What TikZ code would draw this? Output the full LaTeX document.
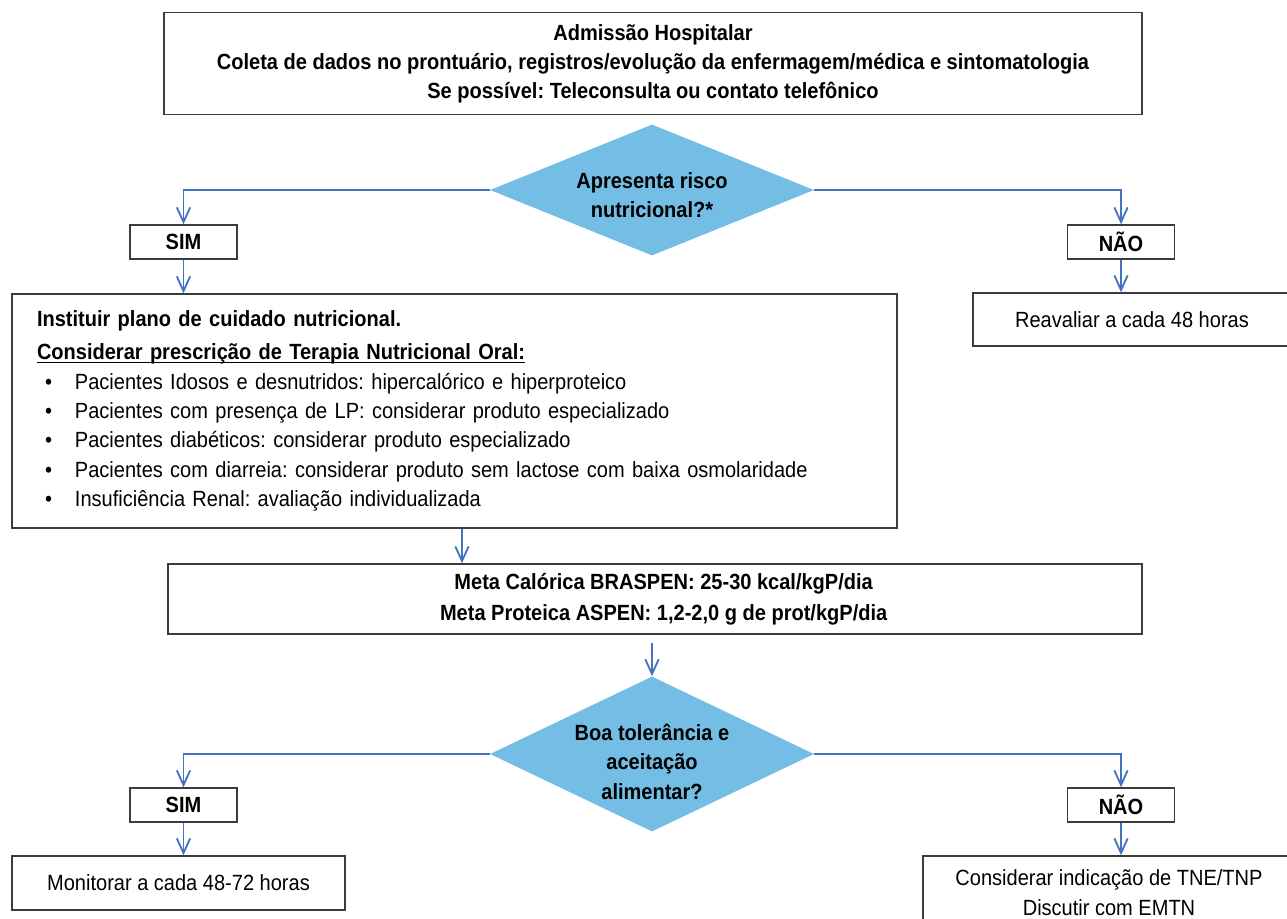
\documentclass[tikz,border=0pt]{standalone}
\usepackage{fontspec}
\setmainfont{Liberation Sans}[FakeStretch=0.91]
\usetikzlibrary{%
  arrows.meta,
  positioning,
  shapes.geometric
}
\definecolor{bleufleche}{RGB}{68,116,192}
\definecolor{bleulosange}{RGB}{116,190,230}
\definecolor{grisbord}{RGB}{60,60,60}
\frenchspacing
\newcommand{\taille}{\fontsize{16.5}{22}\selectfont}
\newcommand{\puce}{\makebox[28.5pt][l]{\hspace{6pt}\textbullet}}
\newcommand{\souligne}[1]{\setbox0\hbox{#1}\rlap{\rule[-2.4pt]{\wd0}{0.9pt}}\box0}

\begin{document}
\begin{tikzpicture}[
  x=0.75pt, y=-0.75pt,
  >={Straight Barb[length=11pt, width=10pt]},
  boite/.style={draw=grisbord, line width=1pt, inner sep=0pt, align=center,
                font=\taille},
  decision/.style={diamond, fill=bleulosange, inner sep=-8pt, align=center,
                   font=\taille\bfseries},
  reponse/.style={boite, minimum width=80.25pt, minimum height=25.5pt,
                  font=\taille\bfseries},
  fleche/.style={->, draw=bleufleche, line width=1.4pt},
]
  \useasboundingbox (0,0) rectangle (1287,919) ;
  \clip (0,0) rectangle (1287,919) ;

  % admission
  \node [boite, minimum width=733.5pt, minimum height=76.5pt,
         font=\fontsize{16.5}{21.75}\selectfont\bfseries] (adm) at (653,63.5)
        {Admissão Hospitalar\\
         Coleta de dados no prontuário, registros/evolução da enfermagem/médica e sintomatologia\\
         Se possível: Teleconsulta ou contato telefônico} ;

  % premier losange
  \node [decision, shape aspect=2.47, minimum width=243pt, minimum height=98.25pt]
        (risco) at (652,190) {\rule{0pt}{20pt}Apresenta risco\\nutricional?*} ;
  \node [reponse] (sim1) at (183.5,242) {SIM} ;
  \node [reponse] (nao1) at (1121,242) {NÃO} ;

  % plano nutricional
  \node [boite, minimum width=663.75pt, minimum height=175.5pt, inner xsep=18.75pt,
         text width=626.25pt, align=left] (plano) at (454.5,411)
        {\textbf{Instituir plano de cuidado nutricional.}\\[3pt]
         \textbf{\souligne{Considerar prescrição de Terapia Nutricional Oral:}}\\
         \puce Pacientes Idosos e desnutridos: hipercalórico e hiperproteico\\
         \puce Pacientes com presença de LP: considerar produto especializado\\
         \puce Pacientes diabéticos: considerar produto especializado\\
         \puce Pacientes com diarreia: considerar produto sem lactose com baixa osmolaridade\\
         \puce Insuficiência Renal: avaliação individualizada} ;
  \node [boite, minimum width=238.5pt, minimum height=39.75pt] (reav) at (1132,319.5)
        {Reavaliar a cada 48 horas} ;

  % metas
  \node [boite, minimum width=730.5pt, minimum height=52.5pt,
         font=\taille\bfseries] (metas) at (655,599)
        {\hspace*{13pt}Meta Calórica BRASPEN: 25-30 kcal/kgP/dia\\[1.5pt]
         \hspace*{13pt}Meta Proteica ASPEN: 1,2-2,0 g de prot/kgP/dia} ;

  % second losange
  \node [decision, shape aspect=2.09, minimum width=243pt, minimum height=116.25pt]
        (toler) at (652,754) {\rule{0pt}{24pt}Boa tolerância e\\aceitação\\alimentar?} ;
  \node [reponse] (sim2) at (183.5,805) {SIM} ;
  \node [reponse] (nao2) at (1121,805) {NÃO} ;

  \node [boite, minimum width=249.75pt, minimum height=40.5pt] (monit) at (178.5,883)
        {Monitorar a cada 48-72 horas} ;
  \node [boite, minimum width=279pt, minimum height=54.75pt] (consid) at (1109,892.5)
        {Considerar indicação de TNE/TNP\\Discutir com EMTN} ;

  % fleches
  \draw [fleche] (risco.west) -| (sim1.north) ;
  \draw [fleche] (risco.east) -| (nao1.north) ;
  \draw [fleche] (sim1.south) -- (sim1.south |- plano.north) ;
  \draw [fleche] (nao1.south) -- (nao1.south |- reav.north) ;
  \draw [fleche] ([xshift=5.6pt]plano.south) -- ([xshift=5.6pt]plano.south |- metas.north) ;
  \draw [fleche, shorten <=6pt] (toler.north |- metas.south) -- (toler.north) ;
  \draw [fleche] (toler.west) -| (sim2.north) ;
  \draw [fleche] (toler.east) -| (nao2.north) ;
  \draw [fleche] (sim2.south) -- (sim2.south |- monit.north) ;
  \draw [fleche] (nao2.south) -- (nao2.south |- consid.north) ;
\end{tikzpicture}
\end{document}
